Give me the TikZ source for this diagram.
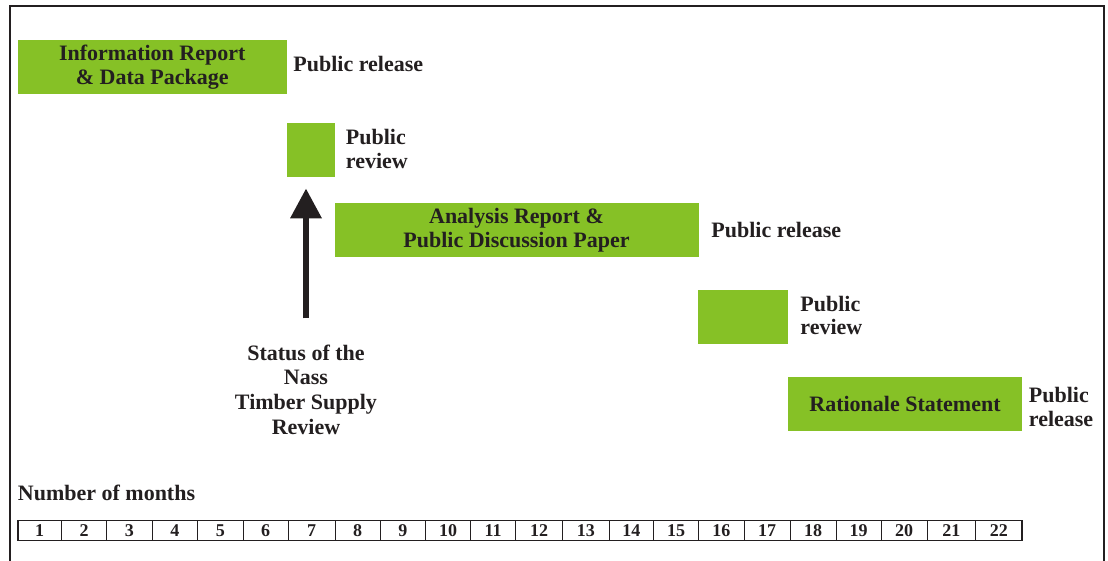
\documentclass[tikz,border=0pt]{standalone}
\usepackage{fontspec}
\setmainfont{Liberation Serif}
\usepackage{tikz}
\usetikzlibrary{arrows.meta}
\definecolor{barGreen}{RGB}{134,193,38}
\definecolor{inkDark}{RGB}{35,31,32}

\begin{document}
\begin{tikzpicture}[x=0.5pt,y=-0.5pt]
        \tikzstyle{every node} = [rectangle, inner sep=0pt, text=inkDark]
        \tikzstyle{task} = [fill=barGreen, minimum height=27pt, align=center, font=\fontsize{11}{11.8}\selectfont\bfseries]
        \tikzstyle{note} = [anchor=west, align=left, font=\fontsize{11}{11.8}\selectfont\bfseries]
        \tikzstyle{monthnum} = [font=\fontsize{9}{9}\selectfont\bfseries]
        \useasboundingbox (0,0) rectangle (1108,561);
        \draw[line width=1pt, inkDark] (10,561) -- (10,6) -- (1104,6) -- (1104,561);
        \node[task, minimum width=134.25pt] (info) at (152.25,67) {Information Report\\\& Data Package};
        \node[note] (rel1) at (293,64.2) {Public release};
        \node[task, minimum width=24.25pt] (rev1) at (311,150) {};
        \node[note] (rev1lbl) at (345.5,149) {Public\\review};
        \node[task, minimum width=182pt] (analysis) at (516.5,230.25) {Analysis Report \&\\Public Discussion Paper};
        \node[note] (rel2) at (711,229.8) {Public release};
        \node[task, minimum width=45pt] (rev2) at (743,317) {};
        \node[note] (rev2lbl) at (800,315.3) {Public\\review};
        \node[task, minimum width=117pt] (rationale) at (905,404.25) {Rationale Statement};
        \node[note] (rel3) at (1028.5,407) {Public\\release};
        \node[align=center, font=\fontsize{11}{12.3}\selectfont\bfseries] (status) at (306,389.5) {Status of the\\Nass\\Timber Supply\\Review};
        \draw[-{Triangle[width=15pt,length=15pt]}, line width=3.3pt, inkDark, shorten <=13pt, shorten >=5.5pt]
            (status.north) -- (status.north |- rev1.south);
        \node[note] (months) at (17.5,492.5) {Number of months};
        \draw[line width=0.6pt, inkDark] (18,520.5) rectangle (1022,540.5);
        \foreach \a/\b [count=\n] in {18/61.5, 61.5/106.5, 106.5/152, 152/197.5, 197.5/243, 243/288,
                288/335, 335/380, 380/425.5, 425.5/470.5, 470.5/515.5, 515.5/562.5, 562.5/609, 609/653.5,
                653.5/698.5, 698.5/744, 744/790, 790/836, 836/881, 881/927, 927/975.5, 975.5/1022}
        {
            \draw[line width=0.5pt, inkDark] (\b,520.5) -- (\b,540.5);
            \node[monthnum] (m\n) at ({(\a+\b)/2},530.8) {\n};
        }
    \end{tikzpicture}
\end{document}
